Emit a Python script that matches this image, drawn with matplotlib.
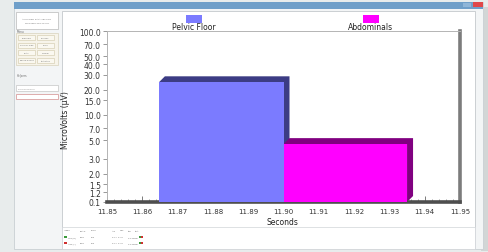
import matplotlib
matplotlib.use('Agg')
import matplotlib.pyplot as plt
from matplotlib.patches import Rectangle, Polygon
from matplotlib.transforms import IdentityTransform

# data
series = ['Pelvic Floor', 'Abdominals']
bar_start = [11.8647, 11.900]
bar_end = [11.900, 11.935]
bar_value = [24.5, 4.5]
front_colors = ['#7b7bff', '#ff00ff']
side_colors = ['#3c3c84', '#800080']
x_ticks = [11.85, 11.86, 11.87, 11.88, 11.89, 11.90, 11.91, 11.92, 11.93, 11.94, 11.95]
y_ticks = [1.2, 1.5, 2.0, 3.0, 5.0, 7.0, 10.0, 15.0, 20.0, 30.0, 40.0, 50.0, 70.0, 100.0]
y_min = 0.921  # bottom of the axis, labelled "0.1" in the original software

W, H = 489, 253
fig = plt.figure(figsize=(W / 100, H / 100), dpi=100)
fig.patch.set_facecolor('#e8ecec')


def box(x0, y0, x1, y1, **kw):
    fig.patches.append(Rectangle((x0 / W, 1 - y1 / H), (x1 - x0) / W, (y1 - y0) / H,
                                 transform=fig.transFigure, zorder=0, **kw))


def label(x, y, s, **kw):
    fig.text(x / W, 1 - y / H, s, **kw)


# window chrome
box(481, 8, 489, 252, facecolor='#d2d6d6', edgecolor='none')
box(478, 10, 482, 250, facecolor='#a4a4a4', edgecolor='none')
box(14, 3, 483, 250, facecolor='#f3f5f6', edgecolor='#c9cfd3', lw=0.6)
box(14, 3, 483, 10, facecolor='#6f9fc9', edgecolor='none')
box(473, 3, 483, 8, facecolor='#e0484a', edgecolor='none')
box(463, 4, 471, 8, facecolor='#8fb6d8', edgecolor='none')

# left side panel
box(16, 13, 58, 30, facecolor='white', edgecolor='#b8b8b8', lw=0.5)
label(37, 19, 'ACQUIRED DATA SESSION', fontsize=1.6, color='#777', ha='center', va='center')
label(37, 24, 'PRINTING PROTOCOL', fontsize=1.6, color='#777', ha='center', va='center')
label(17, 32, 'Menu', fontsize=2, color='#666', va='center')
box(16, 34, 58, 66, facecolor='#f7f4ea', edgecolor='#d8d2bc', lw=0.5)
buttons = [['Channels', 'Screens'], ['Display Type', 'Scale'], ['Units', 'Normal'], ['Timing Bound', 'Statistics']]
for i, row in enumerate(buttons):
    for j, name in enumerate(row):
        bx = 18 + j * 19
        by = 36 + i * 7.5
        box(bx, by, bx + 17, by + 5, facecolor='#faf8f0', edgecolor='#cfc7a8', lw=0.4)
        label(bx + 8.5, by + 2.5, name, fontsize=1.5, color='#777', ha='center', va='center')
label(17, 76, 'Helpers', fontsize=2, color='#666', va='center')
box(16, 86, 58, 92, facecolor='white', edgecolor='#b8b8b8', lw=0.4)
label(18, 89, 'Display Helpers', fontsize=1.5, color='#888', va='center')
box(16, 95, 58, 100, facecolor='white', edgecolor='#d9a0a0', lw=0.6)

# chart panel
box(62, 12, 475, 250, facecolor='white', edgecolor='#c4c8cc', lw=0.6)
box(62, 228, 475, 250, facecolor='white', edgecolor='#d0d4d8', lw=0.5)
heads = [(64, 'Image'), (80, 'CHAN'), (91, 'Scale'), (112, 'Avg'), (120, 'Max'), (128, 'Std'), (135, 'Stat')]
for hx, h in heads:
    label(hx, 231, h, fontsize=1.5, color='#666', va='center')
rows = [('#3a9a3a', 'Leg (R)'), ('#d03030', 'Abs (L)')]
for k, (dot, nm) in enumerate(rows):
    yy = 238 + k * 6
    box(64, yy - 1.2, 66.5, yy + 1.2, facecolor=dot, edgecolor='none')
    label(68, yy, nm, fontsize=1.5, color='#666', va='center')
    label(80, yy, 'EMG', fontsize=1.5, color='#666', va='center')
    label(91, yy, '100', fontsize=1.5, color='#666', va='center')
    label(112, yy, '24.7  27.9', fontsize=1.5, color='#666', va='center')
    label(128, yy, '0.0 Norm', fontsize=1.5, color='#666', va='center')
    box(139, yy - 1.2, 141, yy + 1.2, facecolor='#3a9a3a', edgecolor='none')
    box(141.5, yy - 1.2, 143.5, yy + 1.2, facecolor='#d03030', edgecolor='none')

# plot area
ax = fig.add_axes([107 / W, 1 - 203 / H, (460 - 107) / W, (203 - 32) / H])
ax.set_zorder(5)
ax.set_facecolor('white')
ax.set_yscale('log')
ax.set_xlim(11.85, 11.95)
ax.set_ylim(y_min, 100)

ax.set_xticks(x_ticks)
ax.set_xticklabels(['%.2f' % t for t in x_ticks], fontsize=5, color='#333')
ax.set_xticks([11.85 + 0.002 * i for i in range(51)], minor=True)
ax.tick_params(axis='x', which='major', direction='in', length=4, width=0.6, color='#666', pad=4)
ax.tick_params(axis='x', which='minor', direction='in', length=2.5, width=0.5, color='#777')
ax.set_yticks([y_min] + y_ticks)
ax.set_yticklabels(['0.1'] + ['%.1f' % t for t in y_ticks], fontsize=5.5, color='#333')
ax.yaxis.set_minor_locator(matplotlib.ticker.NullLocator())
ax.tick_params(axis='y', direction='out', length=3, width=0.6, color='#888', pad=1.5)

for side in ['top', 'left']:
    ax.spines[side].set_color('#b4b4b4')
    ax.spines[side].set_linewidth(0.7)
ax.spines['right'].set_color('#7c7c7c')
ax.spines['right'].set_linewidth(2.6)
ax.spines['bottom'].set_color('#4e4e4e')
ax.spines['bottom'].set_linewidth(2.6)

# bars with a flat 3D extrusion drawn in pixels
d = 6
for x0, x1, v, fc, sc in zip(bar_start, bar_end, bar_value, front_colors, side_colors):
    (X0, Y0), (X1, Y1) = ax.transData.transform([(x0, y_min), (x1, v)])
    ext = Polygon([(X0, Y1), (X0 + d, Y1 + d), (X1 + d, Y1 + d), (X1 + d, Y0 + d),
                   (X1, Y0), (X1, Y1)], closed=True, facecolor=sc, edgecolor='none',
                  transform=IdentityTransform(), zorder=2)
    ax.add_patch(ext)
    ax.bar(x0, v - y_min, width=x1 - x0, bottom=y_min, align='edge',
           color=fc, edgecolor='none', zorder=3)

# legend along the top
leg_x = [194, 371]
for lx, name, fc in zip(leg_x, series, front_colors):
    box(lx - 8, 16, lx + 8, 24, facecolor=fc, edgecolor='none')
    label(lx, 28, name, fontsize=5.5, color='#222', ha='center', va='center')

label(282, 223, 'Seconds', fontsize=5.5, color='#222', ha='center', va='center')
label(66, 120, 'MicroVolts (µV)', fontsize=5.5, color='#222', ha='center', va='center', rotation=90)

fig.savefig('out.png', dpi=100)
